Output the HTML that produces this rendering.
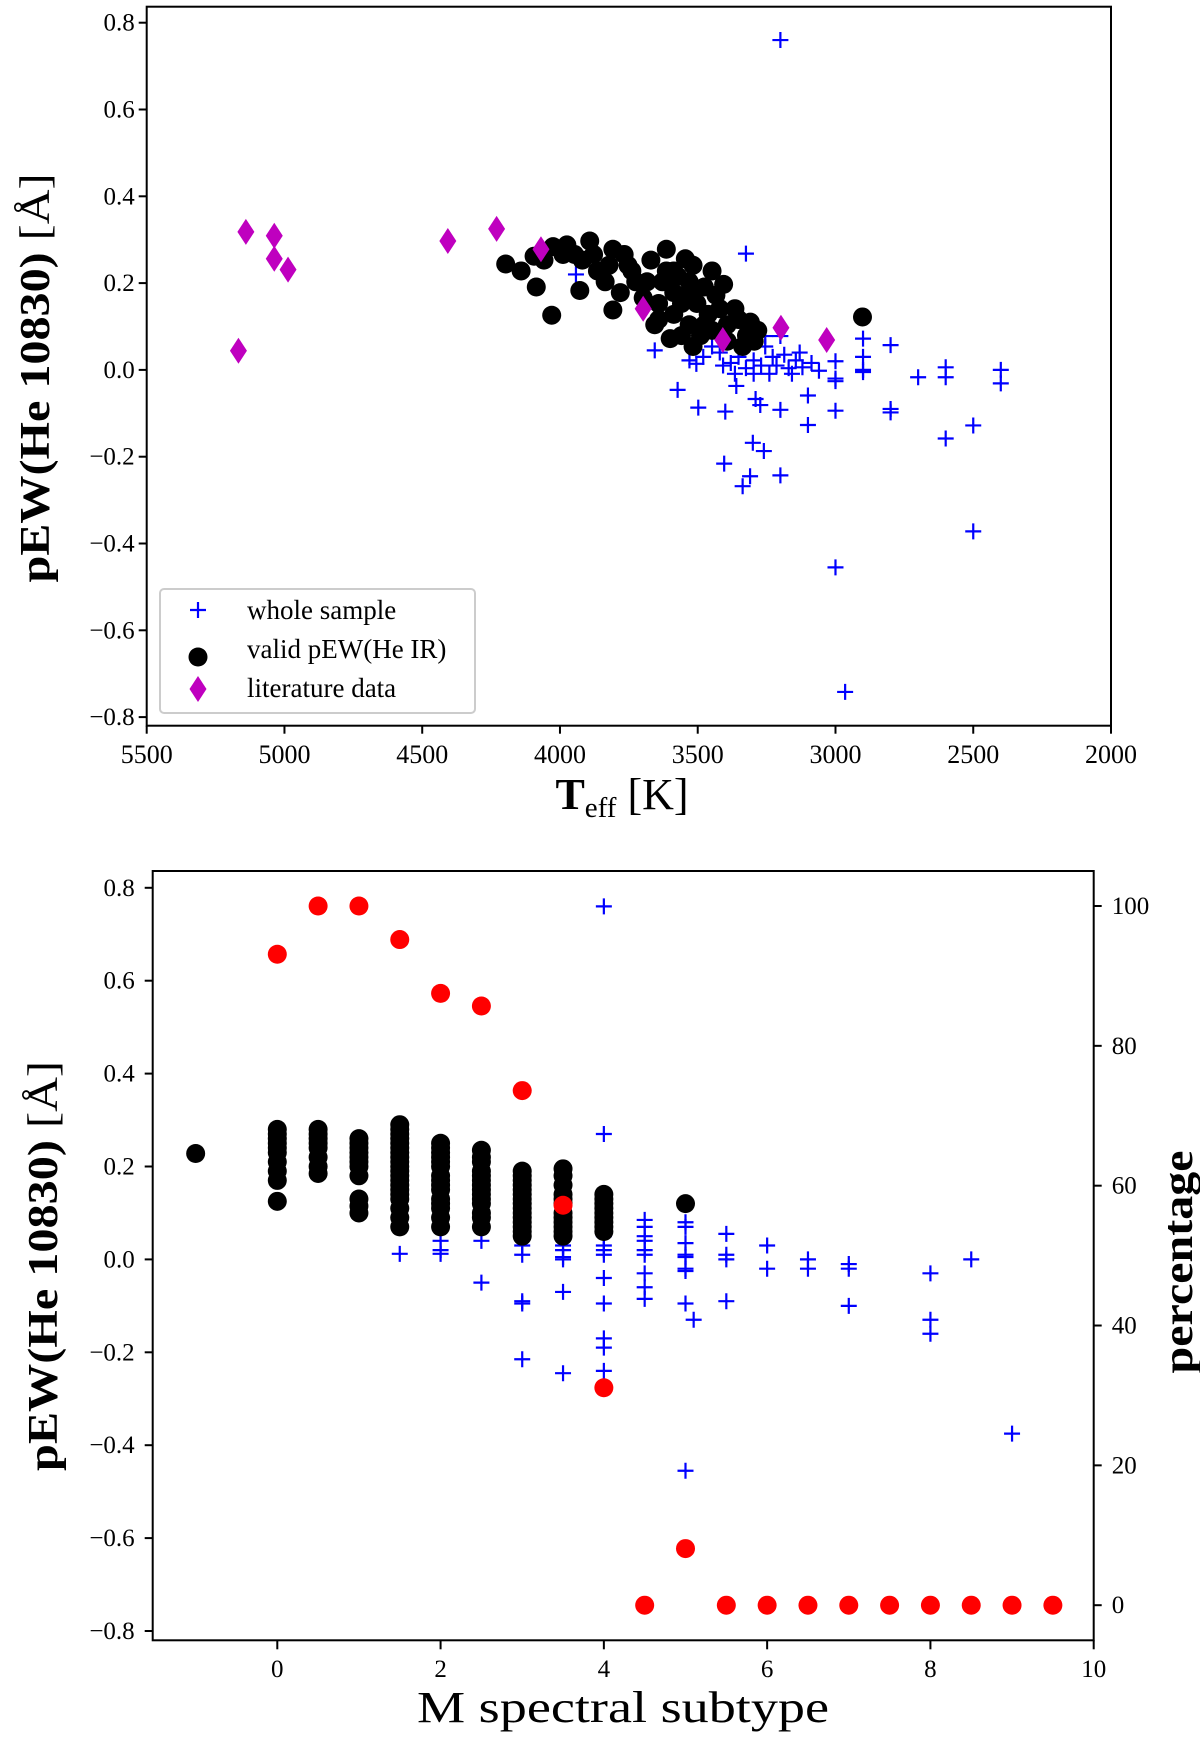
<!DOCTYPE html>
<html><head><meta charset="utf-8">
<style>
html,body{margin:0;padding:0;background:#fff;}
svg{display:block;font-family:"Liberation Serif",serif;}
</style></head>
<body>
<svg id="fig" width="1200" height="1748" viewBox="0 0 1200 1748" xmlns="http://www.w3.org/2000/svg">
<g id="top"></g>
<g id="bot"></g>
</svg>
<script>
// ---------- TOP PANEL DATA ----------
const topYTicks = [-0.8,-0.6,-0.4,-0.2,0.0,0.2,0.4,0.6,0.8];
const topXTicks = [5500,5000,4500,4000,3500,3000,2500,2000];
const wholeTeff = [3200,3325,3656,3573,3498,3400,3360,3300,3260,3404,3337,3310,3200,3290,3273,3200,3100,3100,3000,3000,2965,3000,3000,3000,2900,2900,2900,2900,2800,2800,2800,2700,2600,2600,2600,2500,2500,2400,2400,
3505,3530,3480,3420,3380,3365,3325,3297,3270,3255,3228,3214,3186,3170,3144,3120,3087,3060,3240,3297,3408,3448,3200,3255,3352,3158,3392,3130,3942];
const wholePEW = [0.76,0.268,0.045,-0.046,-0.087,-0.096,-0.037,-0.168,-0.187,-0.216,-0.268,-0.245,-0.243,-0.067,-0.081,-0.092,-0.059,-0.127,-0.094,-0.455,-0.742,-0.02,-0.026,0.02,0.072,0.03,0.0,-0.005,0.057,-0.09,-0.098,-0.017,0.006,-0.017,-0.158,-0.128,-0.372,0.0,-0.031,
0.014,0.022,0.03,0.04,0.016,-0.009,0.004,0.022,0.01,0.054,0.03,0.01,0.035,0.004,0.022,0.006,0.016,-0.002,-0.009,-0.009,0.01,0.054,0.078,0.078,0.03,-0.009,0.066,0.04,0.22];
const validTeff = [4197,4141,4094,4086,4030,3928,3808,4025,3975,3892,3808,3614,3545,3517,3406,3365,3309,3282,2902,3600,3656,3725,3670,3753,3864,3919,3989,4058,3836,3781,3698,3642,3587,3531,3476,3434,3614,3587,3531,3490,3448,3393,3351,3323,3295,3462,3420,3559,3503,3642,3684,3739,3628,3573,3476,3517,3393,3337,3559,3587,3767,3822,3878,3947,3448,3531];
const validPEW = [0.244,0.228,0.262,0.191,0.126,0.183,0.138,0.284,0.288,0.297,0.278,0.278,0.256,0.241,0.197,0.141,0.110,0.091,0.122,0.072,0.104,0.203,0.253,0.241,0.228,0.253,0.266,0.253,0.203,0.178,0.166,0.153,0.178,0.203,0.191,0.172,0.228,0.128,0.104,0.079,0.091,0.104,0.116,0.079,0.066,0.128,0.141,0.153,0.153,0.116,0.203,0.228,0.203,0.216,0.104,0.054,0.066,0.054,0.079,0.228,0.266,0.241,0.266,0.266,0.228,0.178];
const litTeff = [5140,5037,5037,4987,5167,4407,4230,4069,3698,3409,3198,3032];
const litPEW = [0.318,0.309,0.256,0.231,0.044,0.297,0.325,0.278,0.141,0.069,0.097,0.069];

// ---------- BOTTOM PANEL DATA ----------
const botXTicks = [0,2,4,6,8,10];
const botYTicks = [-0.8,-0.6,-0.4,-0.2,0.0,0.2,0.4,0.6,0.8];
const pctTicks = [0,20,40,60,80,100];
const sampleSub = [0,0,1.5,2,2,2,2.5,2.5,3,3,3,3,3,3,3.5,3.5,3.5,3.5,3.5,3.5,4,4,4,4,4,4,4,4,4,4,4,4.5,4.5,4.5,4.5,4.5,4.5,4.5,4.5,4.5,5,5,5,5,5,5,5,5,5,5.1,5.5,5.5,5.5,5.5,6,6,6.5,6.5,7,7,7,8,8,8,8.5,9];
const samplePEW = [0.2,0.22,0.012,0.04,0.02,0.012,0.04,-0.05,0.05,0.01,0.03,-0.09,-0.095,-0.215,0.03,0.02,0.005,0.0,-0.07,-0.245,0.76,0.27,0.05,0.03,0.02,0.01,-0.04,-0.095,-0.17,-0.19,-0.24,0.085,0.07,0.05,0.04,0.02,0.01,-0.03,-0.06,-0.085,0.08,0.07,0.035,0.01,0.005,-0.02,-0.025,-0.095,-0.455,-0.13,0.055,0.01,0.0,-0.09,0.03,-0.02,0.0,-0.02,-0.01,-0.02,-0.1,-0.03,-0.13,-0.16,0.0,-0.375];
const validSub = [-1,0,0,0,0,0,0,0,0,0,0,0.5,0.5,0.5,0.5,0.5,0.5,0.5,0.5,1,1,1,1,1,1,1,1,1,1,1,
1.5,1.5,1.5,1.5,1.5,1.5,1.5,1.5,1.5,1.5,1.5,1.5,1.5,1.5,1.5,1.5,1.5,1.5,1.5,1.5,
2,2,2,2,2,2,2,2,2,2,2,2,2,2,2,2.5,2.5,2.5,2.5,2.5,2.5,2.5,2.5,2.5,2.5,2.5,2.5,2.5,2.5,
3,3,3,3,3,3,3,3,3,3,3,3,3,3,3,3.5,3.5,3.5,3.5,3.5,3.5,3.5,3.5,3.5,3.5,3.5,3.5,4,4,4,4,4,4,4,4,4,5];
const validSubPEW = [0.228,0.125,0.17,0.19,0.21,0.23,0.24,0.25,0.26,0.27,0.28,0.185,0.2,0.22,0.24,0.25,0.26,0.27,0.28,0.1,0.115,0.13,0.18,0.2,0.21,0.22,0.23,0.24,0.25,0.26,
0.07,0.09,0.11,0.13,0.14,0.15,0.16,0.17,0.18,0.19,0.2,0.21,0.22,0.23,0.24,0.25,0.26,0.27,0.28,0.29,
0.07,0.09,0.11,0.12,0.13,0.15,0.16,0.17,0.18,0.2,0.21,0.22,0.23,0.24,0.25,0.07,0.09,0.1,0.12,0.13,0.14,0.15,0.16,0.17,0.18,0.19,0.21,0.22,0.235,
0.05,0.06,0.07,0.08,0.09,0.1,0.11,0.12,0.13,0.14,0.15,0.16,0.17,0.18,0.19,0.05,0.06,0.07,0.08,0.09,0.1,0.12,0.13,0.14,0.16,0.18,0.195,0.06,0.07,0.08,0.09,0.1,0.11,0.12,0.13,0.14,0.12];
const pctSub = [0,0.5,1,1.5,2,2.5,3,3.5,4,4.5,5,5.5,6,6.5,7,7.5,8,8.5,9,9.5];
const pctVal = [93.1,100,100,95.2,87.5,85.7,73.6,57.2,31.1,0,8.1,0,0,0,0,0,0,0,0,0];

const NS="http://www.w3.org/2000/svg";
function mk(parent,tag,attrs,text){const e=document.createElementNS(NS,tag);for(const k in attrs)e.setAttribute(k,attrs[k]);if(text!==undefined)e.textContent=text;parent.appendChild(e);return e;}
function fmt(v,d){const s=Math.abs(v).toFixed(d);return (v<0?"\u2212":"")+s;}
function cross(g,x,y){const p=mk(g,'path',{d:`M${x-8},${y}H${x+8}M${x},${y-8}V${y+8}`,stroke:'#0000ff','stroke-width':2.2,fill:'none'});

}
function dot(g,x,y,c,name){const p=mk(g,'ellipse',{cx:x,cy:y,rx:9.5,ry:9.5,fill:c});

}
function diamond(g,x,y){const p=mk(g,'path',{d:`M${x},${y-13}L${x+8.5},${y}L${x},${y+13}L${x-8.5},${y}Z`,fill:'#bf00bf'});

}

// ---------- TOP ----------
(function(){
const g=document.getElementById('top');
const L=146.7,R=1111,T=6.7,B=725.7;
const xs=v=>L+(5500-v)/3500*(R-L);
const ys=v=>369.9-v*434.0;
const pts=mk(g,'g',{});


for(let i=0;i<wholeTeff.length;i++)cross(pts,xs(wholeTeff[i]),ys(wholePEW[i]));
for(let i=0;i<validTeff.length;i++)dot(pts,xs(validTeff[i]),ys(validPEW[i]),'#000','valid-point');
for(let i=0;i<litTeff.length;i++)diamond(pts,xs(litTeff[i]),ys(litPEW[i]));
const ax=mk(g,'rect',{x:L,y:T,width:R-L,height:B-T,fill:'none',stroke:'#000','stroke-width':2});


topYTicks.forEach(v=>{const y=ys(v);mk(g,'line',{x1:L-8,x2:L,y1:y,y2:y,stroke:'#000','stroke-width':2});
const t=mk(g,'text',{x:L-12,y:y+8,'text-anchor':'end','font-size':25},fmt(v,1));

});
topXTicks.forEach(v=>{const x=xs(v);mk(g,'line',{x1:x,x2:x,y1:B,y2:B+8,stroke:'#000','stroke-width':2});
const t=mk(g,'text',{x:x,y:763,'text-anchor':'middle','font-size':26},String(v));

});
const xl=mk(g,'text',{x:622,y:809,'text-anchor':'middle','font-size':44});


xl.innerHTML='<tspan font-weight="bold">T</tspan><tspan font-size="29" dy="8">eff</tspan><tspan dy="-8"> [K]</tspan>';
const yl=mk(g,'text',{transform:'translate(49,378) rotate(-90)','text-anchor':'middle','font-size':42,textLength:409,lengthAdjust:'spacingAndGlyphs'});


yl.innerHTML='<tspan font-weight="bold">pEW(He 10830)</tspan> [Å]';
// legend
const lg=mk(g,'g',{});


mk(lg,'rect',{x:160,y:589,width:315,height:124,rx:4,fill:'#fff',stroke:'#ccc','stroke-width':2});
cross(lg,198,610);dot(lg,198,657,'#000','legend-marker');diamond(lg,198,689);
[['whole sample',619],['valid pEW(He IR)',658],['literature data',697]].forEach(([s,y])=>{
const t=mk(lg,'text',{x:247,y:y,'font-size':27},s);

});
})();

// ---------- BOTTOM ----------
(function(){
const g=document.getElementById('bot');
const L=152.7,R=1093.7,T=871,B=1640.3;
const xs=v=>277.3+v*81.64;
const ys=v=>1259.4-v*464.5;
const yp=v=>1605.2-v*6.992;
const pts=mk(g,'g',{});


for(let i=0;i<sampleSub.length;i++)cross(pts,xs(sampleSub[i]),ys(samplePEW[i]));
for(let i=0;i<validSub.length;i++)dot(pts,xs(validSub[i]),ys(validSubPEW[i]),'#000','valid-point');
for(let i=0;i<pctSub.length;i++)dot(pts,xs(pctSub[i]),yp(pctVal[i]),'#ff0000','percentage-point');
const ax=mk(g,'rect',{x:L,y:T,width:R-L,height:B-T,fill:'none',stroke:'#000','stroke-width':2});


botYTicks.forEach(v=>{const y=ys(v);mk(g,'line',{x1:L-8,x2:L,y1:y,y2:y,stroke:'#000','stroke-width':2});
const t=mk(g,'text',{x:L-18,y:y+8,'text-anchor':'end','font-size':25},fmt(v,1));

});
pctTicks.forEach(v=>{const y=yp(v);mk(g,'line',{x1:R,x2:R+8,y1:y,y2:y,stroke:'#000','stroke-width':2});
const t=mk(g,'text',{x:R+18,y:y+8,'font-size':25},String(v));

});
botXTicks.forEach(v=>{const x=xs(v);mk(g,'line',{x1:x,x2:x,y1:B,y2:B+9,stroke:'#000','stroke-width':2});
const t=mk(g,'text',{x:x,y:1677,'text-anchor':'middle','font-size':25},String(v));

});
const xl=mk(g,'text',{x:623,y:1722,'text-anchor':'middle','font-size':44,textLength:412,lengthAdjust:'spacingAndGlyphs'},'M spectral subtype');


const yl=mk(g,'text',{transform:'translate(57,1266) rotate(-90)','text-anchor':'middle','font-size':42,textLength:410,lengthAdjust:'spacingAndGlyphs'});


yl.innerHTML='<tspan font-weight="bold">pEW(He 10830)</tspan> [Å]';
const rl=mk(g,'text',{transform:'translate(1192,1262) rotate(-90)','text-anchor':'middle','font-size':42,'font-weight':'bold',textLength:223,lengthAdjust:'spacingAndGlyphs'},'percentage');


})();
</script>
</body></html>
